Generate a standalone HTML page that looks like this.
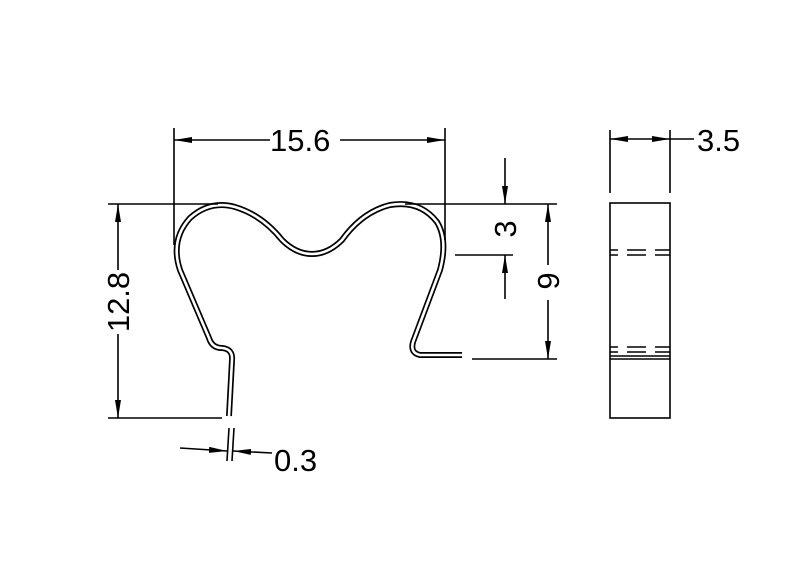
<!DOCTYPE html>
<html><head><meta charset="utf-8"><style>html,body{margin:0;padding:0;background:#fff}svg{display:block}</style></head>
<body>
<svg width="800" height="576" viewBox="0 0 800 576" xmlns="http://www.w3.org/2000/svg">
<defs>
<marker id="a" viewBox="0 0 18 6" refX="18" refY="3" markerWidth="18" markerHeight="6" markerUnits="userSpaceOnUse" orient="auto"><path d="M0,0 L18,3 L0,6 Z" fill="#000"/></marker>
</defs>
<g stroke="#000" stroke-width="1.6" fill="none">
<path d="M229,416 L232,360 Q233,349 222,348 Q212,348 209,338 L180,270 Q170,240 190,218 Q210,200 235,207 Q262,215 282,240 Q296,254 312,254 Q328,254 342,240 Q362,212 390,205 Q420,200 437,222 Q448,240 440,270 L413,342 Q410,353 420,355 L462,355" stroke-width="6" stroke-linejoin="round"/>
<path d="M229,416 L232,360 Q233,349 222,348 Q212,348 209,338 L180,270 Q170,240 190,218 Q210,200 235,207 Q262,215 282,240 Q296,254 312,254 Q328,254 342,240 Q362,212 390,205 Q420,200 437,222 Q448,240 440,270 L413,342 Q410,353 420,355 L462,355" stroke="#fff" stroke-width="2.6" stroke-linejoin="round"/>
<line x1="174" y1="128" x2="174" y2="245"/>
<line x1="445" y1="128" x2="445" y2="240"/>
<line x1="270" y1="140" x2="174" y2="140" marker-end="url(#a)"/>
<line x1="340" y1="140" x2="445" y2="140" marker-end="url(#a)"/>
<line x1="108" y1="204" x2="218" y2="204"/>
<line x1="405" y1="204" x2="557" y2="204"/>
<line x1="108" y1="418" x2="222" y2="418"/>
<line x1="118" y1="270" x2="118" y2="204" marker-end="url(#a)"/>
<line x1="118" y1="334" x2="118" y2="418" marker-end="url(#a)"/>
<line x1="505" y1="158" x2="505" y2="204" marker-end="url(#a)"/>
<line x1="455" y1="255" x2="513" y2="255"/>
<line x1="505" y1="299" x2="505" y2="255" marker-end="url(#a)"/>
<line x1="472" y1="359" x2="557" y2="359"/>
<line x1="548" y1="265" x2="548" y2="204" marker-end="url(#a)"/>
<line x1="548" y1="300" x2="548" y2="359" marker-end="url(#a)"/>
<line x1="610" y1="130" x2="610" y2="193"/>
<line x1="670" y1="130" x2="670" y2="193"/>
<line x1="640" y1="139" x2="610" y2="139" marker-end="url(#a)"/>
<line x1="640" y1="139" x2="670" y2="139" marker-end="url(#a)"/>
<line x1="670" y1="139" x2="694" y2="139"/>
<rect x="610" y="203" width="60" height="215"/>
<path d="M610,250 H618 M627,250 H646 M655,250 H670 M610,255 H618 M627,255 H646 M655,255 H670"/>
<path d="M610,347 H618 M627,347 H646 M655,347 H670 M610,352 H618 M627,352 H646 M655,352 H670"/>
<line x1="610" y1="356" x2="670" y2="356"/>
<line x1="610" y1="359" x2="670" y2="359"/>
<line x1="229" y1="428" x2="227" y2="461"/>
<line x1="234" y1="428" x2="232" y2="461"/>
<line x1="180" y1="448" x2="227" y2="451" marker-end="url(#a)"/>
<line x1="272" y1="453" x2="233" y2="451" marker-end="url(#a)"/>
</g>
<g font-family="Liberation Sans, sans-serif" font-size="31" fill="#000">
<text x="270" y="151">15.6</text>
<text x="697" y="151">3.5</text>
<text x="274" y="471">0.3</text>
<text transform="translate(129,302) rotate(-90)" text-anchor="middle">12.8</text>
<text transform="translate(516,229) rotate(-90)" text-anchor="middle">3</text>
<text transform="translate(559,281) rotate(-90)" text-anchor="middle">9</text>
</g>
</svg>
</body></html>
